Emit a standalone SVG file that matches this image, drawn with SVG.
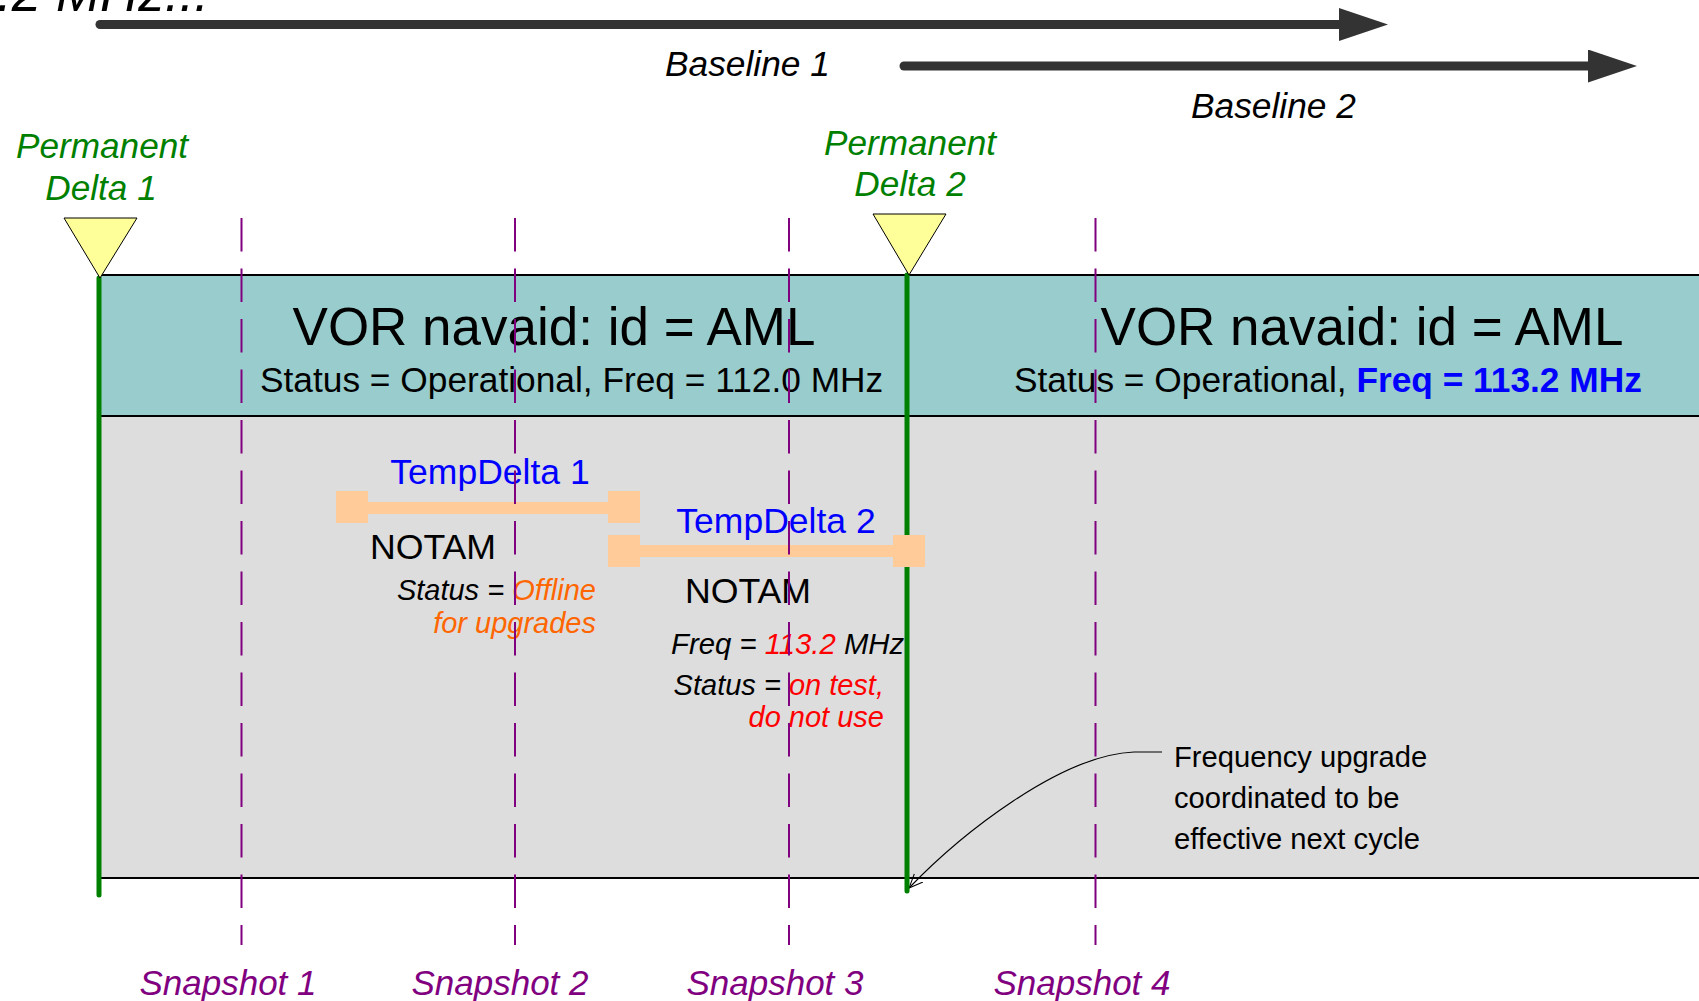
<svg xmlns="http://www.w3.org/2000/svg" width="1699" height="1001" viewBox="0 0 1699 1001">
<style>
text{font-family:"Liberation Sans",Arial,sans-serif}
.it{font-style:italic}
.green{fill:#008000}
.purple{fill:#800080}
.blue{fill:#0000FF}
.orange{fill:#FF6600}
.red{fill:#FF0000}
.snap{stroke:#800080;stroke-width:2;stroke-dasharray:33.5 17;fill:none}
.perm{stroke:#008000;stroke-width:5;stroke-linecap:round;fill:none}
.tri{fill:#FFFF99;stroke:#000;stroke-width:1}
.bar{fill:#FFCC99}
.big{stroke:#333;stroke-width:9;stroke-linecap:round;fill:none}
</style>
<defs>
<marker id="bigArrow" markerUnits="userSpaceOnUse" markerWidth="50" markerHeight="34" refX="0" refY="16.5" orient="auto" viewBox="0 0 50 34">
<path d="M0,0 L49,16.5 L0,33 z" fill="#333"/>
</marker>
<marker id="openArrow" markerUnits="userSpaceOnUse" markerWidth="16" markerHeight="16" refX="14" refY="8" orient="auto" viewBox="0 0 16 16">
<path d="M0,2 L14,8 L0,14" fill="none" stroke="#000" stroke-width="1"/>
</marker>
</defs>
<rect width="1699" height="1001" fill="#fff"/>

<g id="partial-label">
<text x="209" y="11" class="it" font-size="53" text-anchor="end" fill="#000">.2 MHz...</text>
</g>

<g id="band">
<rect x="99" y="275" width="1610" height="141" fill="#99CCCC" stroke="#000" stroke-width="2"/>
<rect x="99" y="416" width="1610" height="462" fill="#DDDDDD" stroke="#000" stroke-width="2"/>
</g>

<g id="header1">
<text x="554" y="345" font-size="53" text-anchor="middle">VOR navaid: id = AML</text>
<text x="260" y="392" font-size="35.3">Status = Operational, Freq = 112.0 MHz</text>
</g>
<g id="header2">
<text x="1362" y="345" font-size="53" text-anchor="middle">VOR navaid: id = AML</text>
<text x="1014" y="392" font-size="35.3">Status = Operational, <tspan class="blue" font-weight="bold">Freq = 113.2 MHz</tspan></text>
</g>

<g id="connectors">
<line class="big" x1="100" y1="24.5" x2="1339" y2="24.5" marker-end="url(#bigArrow)"/>
<line class="big" x1="904" y1="66" x2="1588" y2="66" marker-end="url(#bigArrow)"/>
<path d="M1162,752 L1134,752 C1060,755 960,835 909,888" fill="none" stroke="#000" stroke-width="1.2" marker-end="url(#openArrow)"/>
</g>

<g id="baseline1"><text x="665" y="76" class="it" font-size="35.3">Baseline 1</text></g>
<g id="baseline2"><text x="1191" y="118" class="it" font-size="35.3">Baseline 2</text></g>

<g id="permanent-delta-1">
<line class="perm" x1="99" y1="278" x2="99" y2="895"/>
<polygon class="tri" points="64,218 137,218 100,278"/>
<text class="it green" font-size="35.2" text-anchor="middle"><tspan x="102" y="158">Permanent</tspan><tspan x="101" y="200">Delta 1</tspan></text>
</g>
<g id="permanent-delta-2">
<line class="perm" x1="907" y1="275" x2="907" y2="891"/>
<polygon class="tri" points="873,214 946,214 909,275"/>
<text class="it green" font-size="35.2" text-anchor="middle"><tspan x="910" y="155">Permanent</tspan><tspan x="910" y="196">Delta 2</tspan></text>
</g>

<g id="tempdelta-1">
<rect class="bar" x="366" y="502" width="244" height="12"/>
<rect class="bar" x="336" y="491" width="32" height="32"/>
<rect class="bar" x="608" y="491" width="32" height="32"/>
<text class="blue" x="490" y="484" font-size="35.5" text-anchor="middle">TempDelta 1</text>
<text x="433" y="559" font-size="35.7" text-anchor="middle">NOTAM</text>
<text class="it" font-size="29" text-anchor="end"><tspan x="596" y="600">Status = <tspan class="orange">Offline</tspan></tspan><tspan class="orange" x="596" y="633">for upgrades</tspan></text>
</g>

<g id="tempdelta-2">
<rect class="bar" x="638" y="545" width="257" height="12"/>
<rect class="bar" x="608" y="535" width="32" height="32"/>
<rect class="bar" x="893" y="535" width="32" height="32"/>
<text class="blue" x="776" y="533" font-size="35.5" text-anchor="middle">TempDelta 2</text>
<text x="748" y="603" font-size="35.7" text-anchor="middle">NOTAM</text>
<text class="it" x="671" y="654" font-size="29.3">Freq = <tspan class="red">113.2</tspan> MHz</text>
<text class="it" font-size="29" text-anchor="end"><tspan x="884" y="695">Status = <tspan class="red">on test,</tspan></tspan><tspan class="red" x="884" y="727">do not use</tspan></text>
</g>

<g id="annotation">
<text font-size="29.2"><tspan x="1174" y="767">Frequency upgrade</tspan><tspan x="1174" y="808">coordinated to be</tspan><tspan x="1174" y="849">effective next cycle</tspan></text>
</g>

<g id="snapshots">
<line class="snap" x1="241.5" y1="218" x2="241.5" y2="945"/>
<line class="snap" x1="515" y1="218" x2="515" y2="945"/>
<line class="snap" x1="789" y1="218" x2="789" y2="945"/>
<line class="snap" x1="1095.5" y1="218" x2="1095.5" y2="945"/>
</g>
<g id="snapshot-1"><text class="it purple" x="228" y="995" font-size="35" text-anchor="middle">Snapshot 1</text></g>
<g id="snapshot-2"><text class="it purple" x="500" y="995" font-size="35" text-anchor="middle">Snapshot 2</text></g>
<g id="snapshot-3"><text class="it purple" x="775" y="995" font-size="35" text-anchor="middle">Snapshot 3</text></g>
<g id="snapshot-4"><text class="it purple" x="1082" y="995" font-size="35" text-anchor="middle">Snapshot 4</text></g>
</svg>
